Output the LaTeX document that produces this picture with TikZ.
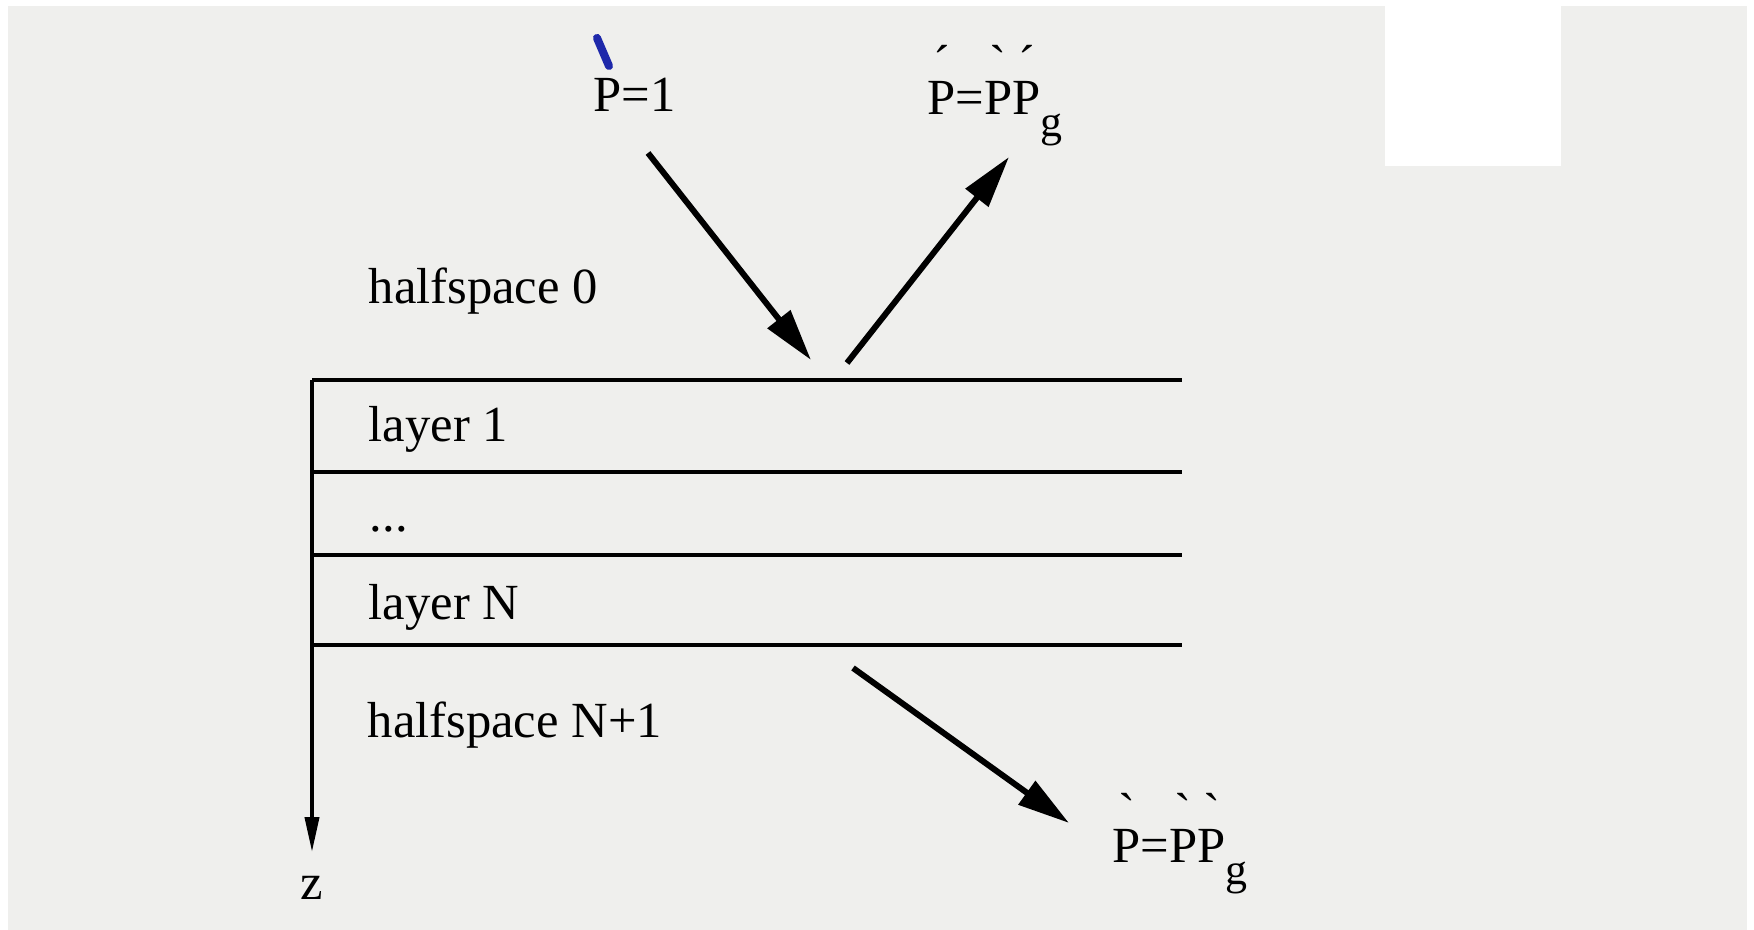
\documentclass[tikz,border=0pt]{standalone}
\usepackage{fontspec}
\usepackage{graphicx}
\setmainfont{Liberation Serif}
\usetikzlibrary{arrows.meta, calc}
\definecolor{ScanGray}{RGB}{239,239,237}
\definecolor{PenBlue}{RGB}{30,40,170}
\newsavebox{\accbox}
\newcommand{\upac}[2]{\sbox{\accbox}{#2}\rlap{\makebox[\wd\accbox]{\raisebox{0.68em}{#1}}}\usebox{\accbox}}
\newcommand{\acu}{\symbol{"B4}}
\newcommand{\grv}{\reflectbox{\symbol{"B4}}}
\newcommand{\subg}{\raisebox{-0.42em}{\fontsize{12.5}{14}\selectfont g}}

\begin{document}
\begin{tikzpicture}[
    lbl/.style={anchor=base west, inner sep=0pt, font=\fontsize{14.4}{17}\selectfont},
    layer/.style={line width=1.1pt},
    arr/.style={-{Triangle[length=5.2mm, width=2.8mm]}, line width=1.7pt},
    axis/.style={-{Triangle[length=3.5mm, width=1.4mm]}, line width=1.1pt}
  ]
  \fill[white] (0,0) rectangle (17.54,9.30);
  \fill[ScanGray] (0.08,0) rectangle (17.47,9.24);
  \fill[white] (13.85,7.64) rectangle (15.61,9.24);

  \foreach \y in {5.50,4.58,3.75,2.85}
    \draw[layer] (3.12,\y) -- (11.82,\y);

  \node[lbl] (hs0)  at (3.68,6.26) {halfspace 0};
  \node[lbl] (l1)   at (3.68,4.88) {layer 1};
  \node[lbl] (dots) at (3.69,3.98) {...};
  \node[lbl] (lN)   at (3.68,3.10) {layer N};
  \node[lbl] (hsN)  at (3.67,1.92) {halfspace N+1};
  \node[lbl, anchor=base] (z) at (3.12,0.30) {z};

  \node[lbl] (pinc)   at (5.93,8.18) {P=1};
  \node[lbl] (prefl)  at (9.27,8.15) {\upac{\acu}{P}=\upac{\grv}{P}\upac{\acu}{P}\subg};
  \node[lbl] (ptrans) at (11.12,0.67) {\upac{\grv}{P}=\upac{\grv}{P}\upac{\grv}{P}\subg};

  \coordinate (ztop) at (3.12,5.50);
  \coordinate (inc)  at (6.48,7.77);
  \coordinate (hit)  at (8.11,5.70);
  \coordinate (refl) at (8.47,5.67);
  \coordinate (rout) at (10.09,7.73);
  \coordinate (trans) at (8.53,2.62);
  \coordinate (tout) at (10.69,1.07);

  \draw[axis] (ztop) -- ([yshift=2.4mm]z.north);
  \draw[arr] (inc) -- (hit);
  \draw[arr] (refl) -- (rout);
  \draw[arr] (trans) -- (tout);

  \draw[PenBlue, line width=2.3pt, line cap=round]
    ($(pinc.base west)+(0.04,0.74)$) -- ($(pinc.base west)+(0.16,0.46)$);
\end{tikzpicture}
\end{document}
